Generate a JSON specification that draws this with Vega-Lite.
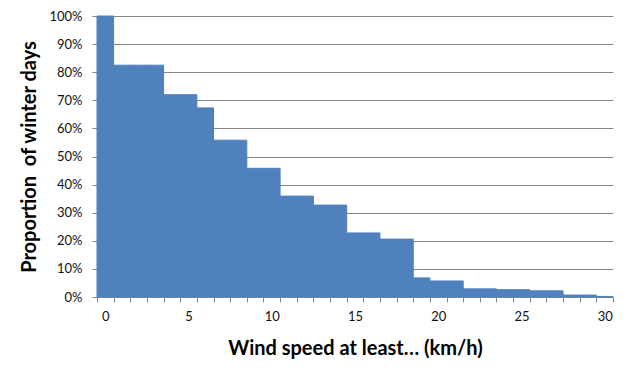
{
  "$schema": "https://vega.github.io/schema/vega-lite/v6.json",
  "width": 516,
  "height": 281,
  "autosize": {"type": "none"},
  "padding": {"left": 97, "top": 16, "right": 16, "bottom": 78},
  "background": "white",
  "config": {
    "view": {"stroke": null},
    "font": "Lato",
    "axis": {
      "labelFont": "Lato",
      "titleFont": "Lato",
      "labelColor": "#111111",
      "titleColor": "#000000",
      "domainColor": "#868686",
      "tickColor": "#868686",
      "gridColor": "#868686",
      "labelFontSize": 13,
      "titleFontSize": 20,
      "titleFontWeight": "bold"
    }
  },
  "data": {
    "values": [
      {"speed": 0, "proportion": 1.0},
      {"speed": 1, "proportion": 0.825},
      {"speed": 2, "proportion": 0.825},
      {"speed": 3, "proportion": 0.825},
      {"speed": 4, "proportion": 0.72},
      {"speed": 5, "proportion": 0.72},
      {"speed": 6, "proportion": 0.673},
      {"speed": 7, "proportion": 0.558},
      {"speed": 8, "proportion": 0.558},
      {"speed": 9, "proportion": 0.458},
      {"speed": 10, "proportion": 0.458},
      {"speed": 11, "proportion": 0.359},
      {"speed": 12, "proportion": 0.359},
      {"speed": 13, "proportion": 0.327},
      {"speed": 14, "proportion": 0.327},
      {"speed": 15, "proportion": 0.228},
      {"speed": 16, "proportion": 0.228},
      {"speed": 17, "proportion": 0.206},
      {"speed": 18, "proportion": 0.206},
      {"speed": 19, "proportion": 0.068},
      {"speed": 20, "proportion": 0.057},
      {"speed": 21, "proportion": 0.057},
      {"speed": 22, "proportion": 0.029},
      {"speed": 23, "proportion": 0.029},
      {"speed": 24, "proportion": 0.026},
      {"speed": 25, "proportion": 0.026},
      {"speed": 26, "proportion": 0.022},
      {"speed": 27, "proportion": 0.022},
      {"speed": 28, "proportion": 0.007},
      {"speed": 29, "proportion": 0.007},
      {"speed": 30, "proportion": 0.002}
    ]
  },
  "mark": {"type": "bar", "color": "#4F81BD", "stroke": "#4F81BD", "strokeWidth": 1},
  "encoding": {
    "x": {
      "field": "speed",
      "type": "ordinal",
      "sort": "ascending",
      "scale": {"paddingInner": 0, "paddingOuter": 0},
      "axis": {
        "title": "Wind speed at least… (km/h)",
        "titlePadding": 15,
        "labelAngle": 0,
        "tickBand": "extent",
        "tickSize": 5,
        "labelPadding": 8,
        "grid": false,
        "labelExpr": "datum.value % 5 == 0 ? datum.label : ''"
      }
    },
    "y": {
      "field": "proportion",
      "type": "quantitative",
      "scale": {"domain": [0, 1]},
      "axis": {
        "title": "Proportion \u00a0of winter days",
        "titlePadding": 9,
        "format": ".0%",
        "values": [0, 0.1, 0.2, 0.3, 0.4, 0.5, 0.6, 0.7, 0.8, 0.9, 1.0],
        "tickSize": 5,
        "labelPadding": 10,
        "grid": true
      }
    }
  }
}
